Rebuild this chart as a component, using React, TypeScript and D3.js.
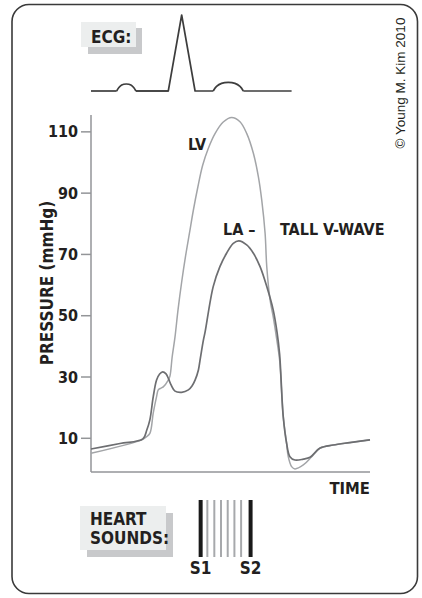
import React from "react";
import * as d3 from "d3";

// ---- Data ----
const tickValues = [10, 30, 50, 70, 90, 110];

const laTime = [0, 10.4, 18.6, 20.0, 21.1, 22.3, 23.5, 24.6, 25.7, 26.9, 27.8, 28.7, 30.1, 32.5, 34.9, 36.2, 37.3, 38.5, 39.1, 40.3, 40.9, 43.8, 46.2, 48.6, 51.0, 53.0, 55.8, 58.2, 60.6, 63.0, 65.3, 66.7, 67.6, 68.9, 70.1, 71.3, 73.1, 76.1, 78.5, 82.1, 86.8, 92.8, 100];
const laPressure = [6.5, 8.3, 9.8, 12.7, 16.0, 23.5, 29.0, 31.0, 31.7, 31.0, 29.4, 27.4, 25.4, 25.0, 25.8, 27.1, 29.0, 32.3, 35.6, 42.1, 44.7, 59.5, 66.0, 70.4, 73.6, 74.4, 73.1, 70.4, 66.0, 59.5, 51.9, 44.5, 37.5, 17.1, 8.4, 4.0, 2.9, 3.2, 3.8, 6.8, 7.8, 8.6, 9.5];

const lvTime = [0, 18.2, 19.7, 21.1, 22.3, 23.5, 24.1, 25.1, 25.9, 27.7, 28.3, 29.1, 30.1, 31.2, 32.5, 33.9, 35.3, 36.7, 38.3, 40.0, 42.0, 44.5, 47.4, 50.4, 53.4, 55.8, 58.2, 60.0, 61.2, 62.4, 63.0, 64.2, 65.3, 66.6, 67.6, 68.9, 70.1, 70.7, 71.9, 73.1, 76.1, 79.1, 82.1, 86.8, 92.8, 100];
const lvPressure = [5.1, 9.5, 10.4, 11.6, 18.2, 23.6, 25.8, 26.4, 26.8, 29.0, 30.3, 36.6, 43.0, 52.0, 61.0, 69.5, 77.0, 84.5, 92.0, 99.0, 104.5, 109.5, 113.2, 114.7, 113.3, 109.5, 103.0, 95.3, 87.7, 76.9, 66.0, 55.1, 49.7, 42.1, 35.6, 17.1, 8.4, 4.0, 0.75, 0, 1.3, 4.0, 6.8, 7.8, 8.6, 9.5];

const ecgBaseTime = [0, 9.2, 16.1, 27.7, 43.8, 54.6, 71.9];
const pWaveTime = [9.2, 10.0, 11.0, 12.65, 14.3, 15.3, 16.1];
const pWaveMv = [0, 0.045, 0.08, 0.092, 0.08, 0.045, 0];
const qrsTime = [27.7, 32.5, 37.3];
const qrsMv = [0, 1, 0];
const tWaveTime = [43.8, 45.0, 46.8, 49.2, 51.6, 53.4, 54.6];
const tWaveMv = [0, 0.06, 0.1, 0.113, 0.1, 0.06, 0];

const soundTime = [39.3, 41.7, 44.2, 46.6, 49.0, 51.4, 53.8, 57.2];
const soundKind = ["S1", "", "", "", "", "", "", "S2"];

const W = 422;
const H = 598;

const FONT = "'Liberation Sans Narrow', 'DejaVu Sans Condensed', 'Arial Narrow', sans-serif";

export default function App() {
  const x = d3.scaleLinear().domain([0, 100]).range([91, 370]);
  const y = d3.scaleLinear().domain([-1, 115.5]).range([472, 115]);
  const ye = d3.scaleLinear().domain([0, 1]).range([91, 15]);

  const curveLine = d3
    .line<[number, number]>()
    .x((d) => x(d[0]))
    .y((d) => y(d[1]))
    .curve(d3.curveCatmullRom.alpha(0.5));

  const la = laTime.map((t, i) => [t, laPressure[i]] as [number, number]);
  const lv = lvTime.map((t, i) => [t, lvPressure[i]] as [number, number]);

  const ecgLinear = d3
    .line<[number, number]>()
    .x((d) => x(d[0]))
    .y((d) => ye(d[1]));
  const ecgSmooth = d3
    .line<[number, number]>()
    .x((d) => x(d[0]))
    .y((d) => ye(d[1]))
    .curve(d3.curveCatmullRom.alpha(0.5));

  const base = (a: number, b: number) =>
    [[ecgBaseTime[a], 0], [ecgBaseTime[b], 0]] as [number, number][];
  const pW = pWaveTime.map((t, i) => [t, pWaveMv[i]] as [number, number]);
  const tW = tWaveTime.map((t, i) => [t, tWaveMv[i]] as [number, number]);
  const qrs = [[ecgBaseTime[2], 0], ...qrsTime.map((t, i) => [t, qrsMv[i]]), [ecgBaseTime[4], 0]] as [number, number][];

  const textColor = "#231f20";

  return (
    <svg
      width={W}
      height={H}
      style={{ position: "absolute", left: 0, top: 0, background: "#fff" }}
    >
      {/* frame */}
      <rect x={12} y={4.5} width={405.5} height={589} rx={17} ry={17} fill="none" stroke="#3a3a3a" strokeWidth={1.6} />

      {/* ECG label box */}
      <rect x={88} y={28} width={54} height={26} fill="#c8c9cb" />
      <rect x={81} y={22} width={55} height={25} fill="#eceeee" />
      <text x={91} y={43} fontFamily={FONT} fontWeight="bold" fontSize={17} fill={textColor}>ECG:</text>

      {/* ECG trace */}
      <g fill="none" stroke="#3d3d3d" strokeWidth={1.7} strokeLinejoin="round">
        <path d={ecgLinear(base(0, 1)) || ""} />
        <path d={ecgSmooth(pW) || ""} />
        <path d={ecgLinear(base(2, 3)) || ""} />
        <path d={ecgLinear(qrs) || ""} />
        <path d={ecgSmooth(tW) || ""} />
        <path d={ecgLinear(base(5, 6)) || ""} />
      </g>

      {/* axes */}
      <g stroke="#939598" strokeWidth={1.5}>
        <line x1={x(0)} x2={x(0)} y1={y(-1)} y2={y(115.5)} />
        <line x1={x(0)} x2={x(100)} y1={y(-1)} y2={y(-1)} />
        {tickValues.map((v) => (
          <line key={v} x1={x(0) - 10} x2={x(0)} y1={y(v)} y2={y(v)} />
        ))}
      </g>
      {tickValues.map((v) => (
        <text
          key={"t" + v}
          x={x(0) - 13}
          y={y(v) + 5.5}
          textAnchor="end"
          fontFamily={FONT}
          fontWeight="bold"
          fontSize={16}
          fill={textColor}
        >
          {v}
        </text>
      ))}
      <text
        transform={`translate(53,${283}) rotate(-90)`}
        textAnchor="middle"
        fontFamily={FONT}
        fontWeight="bold"
        fontSize={17}
        fill={textColor}
      >
        PRESSURE (mmHg)
      </text>
      <text x={x(100)} y={494} textAnchor="end" fontFamily={FONT} fontWeight="bold" fontSize={16.5} fill={textColor}>
        TIME
      </text>

      {/* pressure curves */}
      <path d={curveLine(lv) || ""} fill="none" stroke="#a3a5a8" strokeWidth={1.5} />
      <path d={curveLine(la) || ""} fill="none" stroke="#6d6e71" strokeWidth={1.7} />

      {/* annotations */}
      <text x={188} y={150} fontFamily={FONT} fontWeight="bold" fontSize={16} fill={textColor}>LV</text>
      <text x={223} y={235} fontFamily={FONT} fontWeight="bold" fontSize={16} fill={textColor}>LA –</text>
      <text x={280} y={235} fontFamily={FONT} fontWeight="bold" fontSize={16} fill={textColor}>TALL V-WAVE</text>

      {/* copyright */}
      <text
        transform="translate(405,83) rotate(-90)"
        textAnchor="middle"
        fontFamily="'Liberation Sans', Arial, sans-serif"
        fontSize={13.5}
        fill={textColor}
      >
        © Young M. Kim 2010
      </text>

      {/* heart sounds */}
      <rect x={87} y={513} width={86} height={44} fill="#c8c9cb" />
      <rect x={80} y={506} width={86} height={44} fill="#eceeee" />
      <text fontFamily={FONT} fontWeight="bold" fontSize={17} fill={textColor}>
        <tspan x={90} y={525}>HEART</tspan>
        <tspan x={90} y={544}>SOUNDS:</tspan>
      </text>
      {soundTime.map((t, i) => (
        <line
          key={"s" + i}
          x1={x(t)}
          x2={x(t)}
          y1={500}
          y2={557}
          stroke={soundKind[i] ? "#1a1a1a" : "#a7a9ac"}
          strokeWidth={soundKind[i] ? 4 : 2}
        />
      ))}
      {soundTime.map((t, i) =>
        soundKind[i] ? (
          <text
            key={"sl" + i}
            x={x(t)}
            y={574}
            textAnchor="middle"
            fontFamily={FONT}
            fontWeight="bold"
            fontSize={17}
            fill={textColor}
          >
            {soundKind[i]}
          </text>
        ) : null
      )}
    </svg>
  );
}
